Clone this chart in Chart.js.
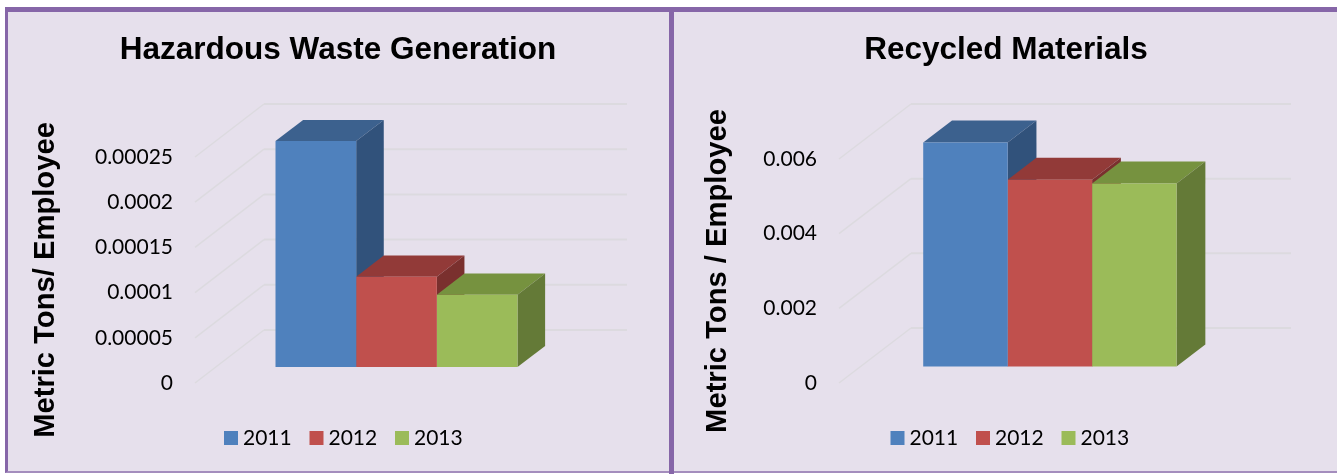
<!DOCTYPE html>
<html>
<head>
<meta charset="utf-8">
<title>Hazardous Waste and Recycled Materials</title>
<script src="https://cdn.jsdelivr.net/npm/chart.js@4/dist/chart.umd.min.js"></script>
<style>
  html, body { margin: 0; padding: 0; background: #fff; width: 1341px; height: 474px; overflow: hidden; }
  #panel {
    position: absolute; left: 5px; top: 7px; width: 1329px; height: 459px;
    background: #e6e0ec; border-top: 5px solid #8666a8; border-left: 3px solid #8666a8; border-bottom: 2px solid #a48dbd;
  }
  #divider { position: absolute; left: 669px; top: 7px; width: 5px; height: 467px; background: #8666a8; }
  canvas { position: absolute; top: 0; }
  #wasteChart { left: 0; }
  #recycledChart { left: 672px; }
</style>
</head>
<body>
<div id="panel"></div>
<div id="divider"></div>
<canvas id="wasteChart" width="670" height="474"></canvas>
<canvas id="recycledChart" width="669" height="474"></canvas>
<script>
const years = ['2011', '2012', '2013'];

const wasteValues = [0.00025, 0.0001, 0.00008];
const wasteTicks = ['0', '0.00005', '0.0001', '0.00015', '0.0002', '0.00025'];

const recycledValues = [0.006, 0.005, 0.0049];
const recycledTicks = ['0', '0.002', '0.004', '0.006'];

const frontColors = ['#4f81bd', '#c0504d', '#9bbb59'];
const topColors = ['#3c618e', '#923a38', '#76923f'];
const sideColors = ['#31527b', '#7a302e', '#647a37'];

const labelFont = '21px Lato, sans-serif';
const boldFont = '"Liberation Sans", Arial, sans-serif';

// fake 3D: back wall grid, bar tops and sides, plus the texts placed by hand
const box3d = {
  id: 'box3d',
  beforeDatasetsDraw(chart, args, opts) {
    const { ctx, chartArea: { left, right }, scales: { y } } = chart;
    const [dx, dy] = opts.depth;

    ctx.save();
    ctx.strokeStyle = '#dcdadf';
    y.ticks.forEach((tick) => {
      const yPos = y.getPixelForValue(tick.value);
      ctx.lineWidth = 1.5;
      ctx.beginPath();
      ctx.moveTo(left, yPos);
      ctx.lineTo(left + dx, yPos + dy);
      ctx.stroke();
      ctx.lineWidth = 2;
      ctx.beginPath();
      ctx.moveTo(left + dx, yPos + dy);
      ctx.lineTo(right + dx, yPos + dy);
      ctx.stroke();
    });
    ctx.restore();

    // bars stand from 30% to 70% of the floor depth
    ctx.save();
    ctx.translate(dx * 0.29, dy * 0.3);
    const bx = dx * 0.4;
    const by = dy * 0.4;
    chart.data.datasets.forEach((ds, i) => {
      const bar = chart.getDatasetMeta(i).data[0];
      const x0 = bar.x - bar.width / 2;
      const x1 = bar.x + bar.width / 2;

      ctx.fillStyle = topColors[i];
      ctx.beginPath();
      ctx.moveTo(x0, bar.y);
      ctx.lineTo(x0 + bx, bar.y + by);
      ctx.lineTo(x1 + bx, bar.y + by);
      ctx.lineTo(x1, bar.y);
      ctx.closePath();
      ctx.fill();

      ctx.fillStyle = sideColors[i];
      ctx.beginPath();
      ctx.moveTo(x1, bar.y);
      ctx.lineTo(x1 + bx, bar.y + by);
      ctx.lineTo(x1 + bx, bar.base + by);
      ctx.lineTo(x1, bar.base);
      ctx.closePath();
      ctx.fill();
    });
  },
  afterDatasetsDraw(chart) {
    chart.ctx.restore();
  },
  afterDraw(chart, args, opts) {
    const ctx = chart.ctx;
    ctx.save();
    ctx.fillStyle = '#000';

    ctx.font = 'bold ' + opts.titleSize + 'px ' + boldFont;
    ctx.textAlign = 'center';
    ctx.textBaseline = 'middle';
    ctx.fillText(opts.title, opts.titleX, 50);

    ctx.save();
    ctx.translate(opts.axisX, opts.axisY);
    ctx.rotate(-Math.PI / 2);
    ctx.font = 'bold ' + opts.axisSize + 'px ' + boldFont;
    ctx.fillText(opts.axisTitle, 0, 0);
    ctx.restore();

    // legend
    ctx.font = labelFont;
    ctx.textAlign = 'left';
    chart.data.datasets.forEach((ds, i) => {
      const x = opts.legendX + i * 85.5;
      ctx.fillStyle = ds.backgroundColor;
      ctx.fillRect(x, 431, 14, 14);
      ctx.fillStyle = '#000';
      ctx.fillText(ds.label, x + 19, 438);
    });
    ctx.restore();
  }
};

function makeChart(id, values, tickLabels, maxValue, stepValue, padRight, box) {
  return new Chart(document.getElementById(id), {
    type: 'bar',
    data: {
      labels: [''],
      datasets: years.map((year, i) => ({
        label: year,
        data: [values[i]],
        backgroundColor: frontColors[i],
        barPercentage: 1,
        categoryPercentage: 2 / 3,
        clip: false
      }))
    },
    options: {
      responsive: false,
      animation: false,
      layout: { padding: { left: 0, right: padRight, top: box.top, bottom: 91 } },
      scales: {
        x: { display: false },
        y: {
          min: 0,
          max: maxValue,
          afterFit(scale) { scale.width = box.left; },
          grid: { display: false, drawTicks: false },
          border: { display: false },
          ticks: {
            stepSize: stepValue,
            autoSkip: false,
            padding: 22,
            color: '#000',
            font: { family: 'Lato, sans-serif', size: 21 },
            callback: (value, index) => tickLabels[index]
          }
        }
      },
      plugins: {
        legend: { display: false },
        title: { display: false },
        tooltip: { enabled: false },
        box3d: box
      }
    },
    plugins: [box3d]
  });
}

makeChart('wasteChart', wasteValues, wasteTicks, 0.00025, 0.00005, 112, {
  top: 157, left: 195, depth: [69, -53],
  title: 'Hazardous Waste Generation', titleSize: 31.5, titleX: 338,
  axisTitle: 'Metric Tons/ Employee', axisSize: 29.2, axisX: 46, axisY: 280,
  legendX: 224
});

makeChart('recycledChart', recycledValues, recycledTicks, 0.006, 0.002, 122, {
  top: 159, left: 167, depth: [72, -55],
  title: 'Recycled Materials', titleSize: 31.5, titleX: 334,
  axisTitle: 'Metric Tons / Employee', axisSize: 29.2, axisX: 45.5, axisY: 271,
  legendX: 218.5
});
</script>
</body>
</html>
